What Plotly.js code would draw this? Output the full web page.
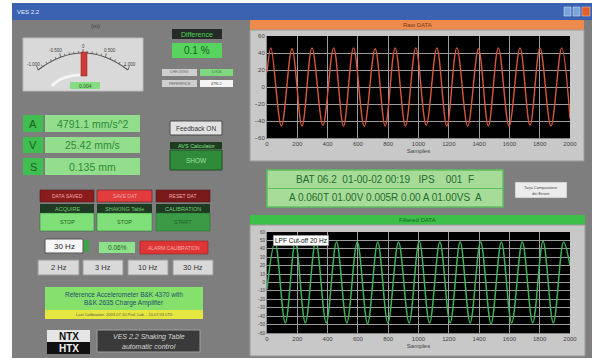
<!DOCTYPE html>
<html>
<head>
<meta charset="utf-8">
<script src="https://cdn.plot.ly/plotly-3.0.1.min.js"></script>
<style>html,body{margin:0;padding:0;background:#fff;}#chart{width:592px;height:360px;}</style>
</head>
<body>
<div id="chart"></div>
<script>
// ---- data (extrema of the waveforms) ----
const rawSamples = [0, 26, 95, 165, 231, 297, 369, 440, 505, 571, 642, 714, 780, 846, 914, 982, 1051, 1121, 1187, 1253, 1325, 1396, 1461, 1527, 1598, 1670, 1736, 1802, 1874, 1945, 2000];
const rawValues  = [17, 46, -46, 45, -46, 46, -45, 46, -46, 46, -46, 45, -46, 46, -46, 46, -45, 46, -46, 46, -46, 45, -46, 46, -46, 46, -45, 46, -46, 46, -37];
const filtSamples = [0, 53, 121, 187, 253, 322, 391, 459, 527, 596, 664, 731, 798, 868, 938, 1005, 1073, 1141, 1209, 1275, 1341, 1410, 1479, 1547, 1615, 1685, 1754, 1822, 1890, 1958, 2000];
const filtValues  = [-8, 48, -48, 48, -48, 49, -48, 48, -48, 48, -49, 48, -48, 48, -48, 49, -48, 48, -48, 48, -48, 48, -49, 48, -48, 48, -48, 49, -48, 48, 20];
const xTicks = [0, 200, 400, 600, 800, 1000, 1200, 1400, 1600, 1800, 2000];
const rawYTicks = [-60, -40, -20, 0, 20, 40, 60];
const filtYTicks = [-60, -50, -40, -30, -20, -10, 0, 10, 20, 30, 40, 50, 60];
const legendName = 'LPF Cut-off 20 Hz';
const accelText = '4791.1 mm/s^2';
const velText = '25.42 mm/s';
const dispText = '0.135 mm';
const diffText = '0.1 %';
const hzButtons = ['2 Hz', '3 Hz', '10 Hz', '30 Hz'];
const statusLine1 = 'BAT 06.2  01-00-02 00:19   IPS    001  F';
const statusLine2 = 'A 0.060T 01.00V 0.005R 0.00 A 01.00VS  A';

// ---- helpers for page furniture ----
const W = 592, H = 360;
const FONT = 'Liberation Sans, Arial, sans-serif';
const px = x => x / W;
const py = y => 1 - y / H;
const shapes = [];
const annotations = [];
function rect(x0, y0, x1, y1, fill, line, lw) {
  shapes.push({type: 'rect', xref: 'paper', yref: 'paper', layer: 'below',
    x0: px(x0), x1: px(x1), y0: py(y1), y1: py(y0),
    fillcolor: fill, line: {color: line || fill, width: lw === undefined ? 0 : lw}});
}
function seg(x0, y0, x1, y1, color, w) {
  shapes.push({type: 'line', xref: 'paper', yref: 'paper', layer: 'below',
    x0: px(x0), x1: px(x1), y0: py(y0), y1: py(y1), line: {color: color, width: w || 1}});
}
function txt(x, y, s, size, color, extra) {
  annotations.push(Object.assign({xref: 'paper', yref: 'paper', x: px(x), y: py(y), text: s,
    showarrow: false, xanchor: 'center', yanchor: 'middle',
    font: {size: size, color: color, family: FONT}}, extra || {}));
}

// window
rect(12, 3, 592, 20, '#3b62b0');
txt(28, 12, 'VES 2.2', 6, '#e8eeff');
rect(564, 7, 571, 16, '#7aa3dc', '#dfe8f5', 0.5);
rect(573, 7, 580, 16, '#7aa3dc', '#dfe8f5', 0.5);
rect(582, 7, 590, 16, '#e0602c', '#f5d0c0', 0.5);
rect(12, 20, 592, 358, '#7e7e7e');

// gauge
txt(95, 26, '(m)', 6, '#3a3a3a');
rect(23, 38, 143, 91, '#d9d9d9', '#bcbcbc', 1);
shapes.push({type: 'path', xref: 'paper', yref: 'paper', layer: 'below',
  path: `M ${px(38)} ${py(70)} Q ${px(83)} ${py(36)} ${px(128)} ${py(70)}`,
  line: {color: '#555', width: 1.2}});
shapes.push({type: 'path', xref: 'paper', yref: 'paper', layer: 'below',
  path: `M ${px(52)} ${py(86)} Q ${px(60)} ${py(76)} ${px(80)} ${py(75)}`,
  line: {color: '#f4f4f4', width: 3}});
for (let i = 0; i <= 20; i++) {
  const t = i / 20;
  const bx = (1 - t) * (1 - t) * 38 + 2 * (1 - t) * t * 83 + t * t * 128;
  const by = (1 - t) * (1 - t) * 70 + 2 * (1 - t) * t * 36 + t * t * 70;
  const len = i % 5 === 0 ? 4 : 2;
  seg(bx, by, bx + (bx - 83) * 0.03, by - len, '#555', 0.8);
}
txt(33, 64, '-1.000', 4.5, '#444');
txt(55, 51, '-0.500', 4.5, '#444');
txt(83, 46, '0', 4.5, '#444');
txt(110, 51, '0.500', 4.5, '#444');
txt(130, 64, '1.000', 4.5, '#444');
rect(81, 52, 87, 76, '#d23a3a', '#8a1a1a', 0.5);
rect(70, 82, 100, 89, '#86dc82');
txt(85, 85.5, '0.004', 5, '#1e5e25');

// difference
rect(172, 29, 222, 39, '#262a26');
txt(197, 34, 'Difference', 7, '#4fd35a');
rect(172, 43, 222, 58, '#56d45e');
txt(197, 50.5, diffText, 10, '#1a5e22');
rect(162, 69, 197, 76, '#cfcfcf');
rect(200, 69, 233, 76, '#7fd87f');
rect(162, 80, 197, 87, '#cfcfcf');
rect(200, 80, 233, 87, '#f4f4f4');
txt(179.5, 72.5, 'CHECKING', 3.5, '#666');
txt(216.5, 72.5, 'LOCK', 3.5, '#2a6a2a');
txt(179.5, 83.5, 'REFERENCE', 3.5, '#666');
txt(216.5, 83.5, '4791.1', 3.5, '#333');

// A V S rows
const rows = [['A', accelText, 115, 132], ['V', velText, 137, 153], ['S', dispText, 158, 175]];
rows.forEach(r => {
  rect(23, r[2], 43, r[3], '#3fbf4f');
  txt(33, (r[2] + r[3]) / 2, r[0], 11, '#1d5e23');
  rect(45, r[2], 140, r[3], '#92de8c');
  txt(92.5, (r[2] + r[3]) / 2, r[1], 10.5, '#2f8a3a');
});

// feedback / AVS
rect(170, 121, 222, 135, '#e2e2e2', '#4a4a4a', 1);
txt(196, 128, 'Feedback ON', 6.5, '#333');
rect(170, 142, 222, 149, '#1e3d1f');
txt(196, 145.5, 'AVS Calculator', 5.5, '#86e08a');
rect(170, 150, 222, 170, '#2f8a3a', '#1e4d22', 1);
txt(196, 160, 'SHOW', 6.5, '#9fe29f');

// control block
const ctl = [[40, 94, 'DATA SAVED', '#8a1c1c', 'ACQUIRE', 'STOP', '#7fe07a'],
             [97, 152, 'SAVE DAT', '#e23c3c', 'SHAKING Table', 'STOP', '#7fe07a'],
             [156, 210, 'RESET DAT', '#7a1a1a', 'CALIBRATION', 'START', '#3a9a45']];
ctl.forEach(c => {
  rect(c[0], 190, c[1], 202, c[3], '#4a1010', 0.5);
  txt((c[0] + c[1]) / 2, 196, c[2], 5, '#f0a8a8');
  rect(c[0], 204, c[1], 213, '#1f3a22');
  txt((c[0] + c[1]) / 2, 208.5, c[4], 5.5, '#6fd06f');
  rect(c[0], 213, c[1], 231, c[6], '#2a6a2a', 0.5);
  txt((c[0] + c[1]) / 2, 222, c[5], 5.5, '#1f5e25');
});

rect(45, 239, 83, 253, '#f7f7f7', '#555', 1);
txt(64, 246, '30 Hz', 8, '#222');
rect(84, 240, 89, 252, '#3fa34a');
rect(99, 242, 135, 253, '#8fe08a');
txt(117, 247.5, '0.06%', 6.5, '#1f5e25');
rect(140, 241, 208, 254, '#e03535', '#8a1a1a', 0.5);
txt(174, 247.5, 'ALARM CALIBRATION', 5, '#f4b0b0');

const hzX = [[38, 79], [83, 123], [128, 168], [173, 213]];
hzButtons.forEach((b, i) => {
  rect(hzX[i][0], 260, hzX[i][1], 275, '#d9d9d9', '#9a9a9a', 1);
  txt((hzX[i][0] + hzX[i][1]) / 2, 267.5, b, 7.5, '#333');
});

rect(45, 287, 203, 310, '#86e06c');
txt(124, 294, 'Reference Accelerometer B&K 4370 with', 6.5, '#1f4f6f');
txt(124, 303, 'B&K 2635 Charge Amplifier', 6.5, '#1f4f6f');
rect(45, 310, 203, 319, '#e6e640');
txt(124, 314.5, 'Last Calibration: 2003-07-10 Prof. Lab. - 10.07.03 LTD', 4, '#555');

rect(47, 330, 90, 342, '#e6e6e6');
rect(47, 342, 90, 354, '#111');
txt(68.5, 336.5, '<b>NTX</b>', 10, '#111');
txt(68.5, 348, '<b>HTX</b>', 10, '#f0f0f0');
rect(97, 330, 200, 352, '#3a3a3a', '#a0a0a0', 1);
txt(148.5, 336.5, '<i>VES 2.2 Shaking Table</i>', 7, '#d6d6d6');
txt(148.5, 346, '<i>automatic control</i>', 7, '#d6d6d6');

// right column frames
rect(250, 20, 584, 30, '#ef8a4e');
txt(417, 25, 'Raw DATA', 6, '#7a3a1a');
rect(250, 30, 584, 161, '#c8c8c8', '#9a9a9a', 1);
rect(267, 36, 570, 138, '#000000');

rect(267, 170, 503, 207, '#a6dc98', '#5fbf5f', 1.5);
seg(267, 188.5, 503, 188.5, '#5fbf5f', 1);
txt(385, 179, statusLine1, 10, '#256b2e');
txt(385, 197.5, statusLine2, 10, '#256b2e');
rect(515, 182, 567, 198, '#ececec', '#888', 0.5);
txt(541, 187.5, 'Tarja Comparatore', 4, '#444');
txt(541, 193, 'dei Errore', 4, '#444');

rect(250, 215, 585, 225, '#3cc04a');
txt(417, 220, 'Filtered DATA', 6, '#1d5e23');
rect(250, 225, 585, 356, '#c8c8c8', '#9a9a9a', 1);
rect(267, 232, 570, 333, '#000000');

// legend box of the filtered graph
txt(273, 241, legendName, 6.5, '#111', {xanchor: 'left', bgcolor: '#ffffff',
  bordercolor: '#777', borderwidth: 0.5, borderpad: 1.5});

// ---- traces ----
const traces = [
  {x: rawSamples, y: rawValues, type: 'scatter', mode: 'lines', xaxis: 'x', yaxis: 'y',
   line: {color: '#d8583f', width: 1.4, shape: 'spline', smoothing: 1}, showlegend: false, name: 'Raw'},
  {x: filtSamples, y: filtValues, type: 'scatter', mode: 'lines', xaxis: 'x2', yaxis: 'y2',
   line: {color: '#3fb35a', width: 1.5, shape: 'spline', smoothing: 1}, showlegend: false, name: legendName}
];

const axBase = {showgrid: true, gridcolor: '#9c9c9c', gridwidth: 1, zeroline: false,
  showline: true, linecolor: '#888', linewidth: 1, ticks: '', fixedrange: true,
  tickfont: {size: 6, color: '#444', family: FONT}};

const layout = {
  width: W, height: H, margin: {l: 0, r: 0, t: 0, b: 0},
  paper_bgcolor: '#ffffff', plot_bgcolor: 'rgba(0,0,0,0)',
  font: {family: FONT},
  xaxis: Object.assign({}, axBase, {domain: [px(267), px(570)], anchor: 'y', range: [0, 2000],
    tickvals: xTicks, title: {text: 'Samples', font: {size: 6, color: '#444'}, standoff: 2}}),
  yaxis: Object.assign({}, axBase, {domain: [py(138), py(36)], anchor: 'x', range: [-60, 60],
    tickvals: rawYTicks}),
  xaxis2: Object.assign({}, axBase, {domain: [px(267), px(570)], anchor: 'y2', range: [0, 2000],
    tickvals: xTicks, title: {text: 'Samples', font: {size: 6, color: '#444'}, standoff: 2}}),
  yaxis2: Object.assign({}, axBase, {domain: [py(333), py(232)], anchor: 'x2', range: [-60, 60],
    tickvals: filtYTicks, tickfont: {size: 4.5, color: '#444', family: FONT}}),
  showlegend: false,
  shapes: shapes,
  annotations: annotations
};

Plotly.newPlot('chart', traces, layout, {displayModeBar: false, staticPlot: true});
</script>
</body>
</html>
